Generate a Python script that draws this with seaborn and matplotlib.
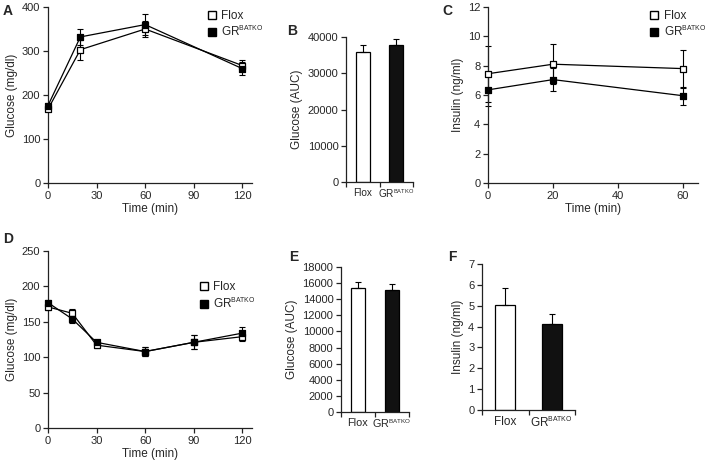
import numpy as np
import pandas as pd
import matplotlib
matplotlib.use("Agg")
import matplotlib.pyplot as plt
import matplotlib._mathtext as mathtext_mod
from matplotlib.lines import Line2D
import seaborn as sns

sns.set_style("ticks")
plt.rcParams['font.family'] = ['Liberation Sans', 'DejaVu Sans']
plt.rcParams['mathtext.fontset'] = 'custom'
plt.rcParams['mathtext.rm'] = 'Liberation Sans'
# smaller superscript, like the "BATKO" in the figure
mathtext_mod.SHRINK_FACTOR = 0.58

# ---- data (mean, SEM) ----
groups = ['Flox', 'GR$^{\\mathrm{BATKO}}$']

# A: GTT glucose
gtt_time = [0, 20, 60, 120]
gtt_flox = [168, 303, 350, 267]
gtt_flox_err = [5, 23, 18, 13]
gtt_ko = [176, 332, 360, 260]
gtt_ko_err = [5, 18, 23, 14]

# B: GTT AUC
gtt_auc = [36000, 37700]
gtt_auc_err = [1900, 1700]

# C: GTT insulin
ins_time = [0, 20, 60]
ins_flox = [7.45, 8.1, 7.8]
ins_flox_err = [1.9, 1.35, 1.3]
ins_ko = [6.35, 7.05, 5.95]
ins_ko_err = [1.1, 0.8, 0.6]

# D: ITT glucose
itt_time = [0, 15, 30, 60, 90, 120]
itt_flox = [171, 162, 117, 108, 121, 129]
itt_flox_err = [4, 6, 4, 7, 10, 6]
itt_ko = [177, 154, 121, 108, 121, 134]
itt_ko_err = [4, 6, 4, 7, 10, 8]

# E: ITT AUC
itt_auc = [15400, 15100]
itt_auc_err = [700, 800]

# F: fasting insulin
fast_ins = [5.02, 4.11]
fast_ins_err = [0.83, 0.48]

W, H = 708, 468
fig = plt.figure(figsize=(W / 100, H / 100), dpi=100)


def add_ax(l, t, r, b):
    return fig.add_axes([l / W, 1 - b / H, (r - l) / W, (b - t) / H])


def style(ax):
    sns.despine(ax=ax)
    for s in ['left', 'bottom']:
        ax.spines[s].set_linewidth(0.9)
        ax.spines[s].set_color('#222222')
    ax.tick_params(axis='both', labelsize=8, length=3.5, width=0.9,
                   direction='out', color='#222222', pad=2)


def time_course(ax, t, flox, flox_err, ko, ko_err, xlim, ylim, yticks, xticks, ylabel):
    df = pd.DataFrame({
        'time': list(t) * 2,
        'value': list(flox) + list(ko),
        'group': ['Flox'] * len(t) + ['KO'] * len(t),
    })
    for vals, errs in [(flox, flox_err), (ko, ko_err)]:
        ax.errorbar(t, vals, yerr=errs, fmt='none', ecolor='black', elinewidth=0.8,
                    capsize=2.5, capthick=0.8, clip_on=False, zorder=2)
    sns.lineplot(data=df, x='time', y='value', hue='group', palette=['black', 'black'],
                 linewidth=0.9, legend=False, ax=ax, zorder=3)
    for vals, face in [(flox, 'white'), (ko, 'black')]:
        sns.scatterplot(x=t, y=vals, marker='s', s=22, color=face, edgecolor='black',
                        linewidth=0.9, ax=ax, zorder=4, clip_on=False, legend=False)
    ax.set_xlim(*xlim)
    ax.set_ylim(*ylim)
    ax.set_xticks(xticks)
    ax.set_yticks(yticks)
    ax.set_xlabel('Time (min)', fontsize=8.5, labelpad=2)
    ax.set_ylabel(ylabel, fontsize=8.5, labelpad=3)
    style(ax)


def add_legend(ax, loc_xy):
    handles = [
        Line2D([], [], linestyle='none', marker='s', markersize=6,
               markerfacecolor='white', markeredgecolor='black', markeredgewidth=1),
        Line2D([], [], linestyle='none', marker='s', markersize=6,
               markerfacecolor='black', markeredgecolor='black'),
    ]
    ax.legend(handles, groups, loc='upper left', bbox_to_anchor=loc_xy, frameon=False,
              fontsize=8.5, handlelength=0.8, handletextpad=0.4, labelspacing=0.3,
              borderaxespad=0, borderpad=0)


def bar_panel(ax, vals, errs, ylim, yticks, ylabel, xfont):
    df = pd.DataFrame({'group': groups, 'value': vals})
    sns.barplot(data=df, x='group', y='value', hue='group', palette=['white', '#111111'],
                edgecolor='black', linewidth=0.9, width=0.42, legend=False, ax=ax)
    ax.errorbar([0, 1], vals, yerr=[np.zeros(2), errs], fmt='none', ecolor='black',
                elinewidth=0.8, capsize=2.5, capthick=0.8)
    ax.set_xlim(-0.5, 1.5)
    ax.set_ylim(*ylim)
    ax.set_yticks(yticks)
    ax.set_xticks([-0.5, 0.5, 1.5], minor=True)
    ax.set_xlabel('')
    ax.set_ylabel(ylabel, fontsize=8.5, labelpad=3)
    style(ax)
    ax.tick_params(axis='x', which='major', length=0, labelsize=xfont, pad=4)
    ax.tick_params(axis='x', which='minor', length=3.5, width=0.9, color='#222222')


# A
axA = add_ax(48, 7, 252, 183)
time_course(axA, gtt_time, gtt_flox, gtt_flox_err, gtt_ko, gtt_ko_err,
            (0, 126), (0, 400), [0, 100, 200, 300, 400], [0, 30, 60, 90, 120],
            'Glucose (mg/dl)')
add_legend(axA, (0.78, 0.985))

# B
axB = add_ax(346, 37, 413, 182)
bar_panel(axB, gtt_auc, gtt_auc_err, (0, 40000), [0, 10000, 20000, 30000, 40000],
          'Glucose (AUC)', 7.2)

# C
axC = add_ax(488, 7, 698, 183)
time_course(axC, ins_time, ins_flox, ins_flox_err, ins_ko, ins_ko_err,
            (0, 64.6), (0, 12), [0, 2, 4, 6, 8, 10, 12], [0, 20, 40, 60],
            'Insulin (ng/ml)')
add_legend(axC, (0.77, 0.985))

# D
axD = add_ax(48, 251, 252, 428)
time_course(axD, itt_time, itt_flox, itt_flox_err, itt_ko, itt_ko_err,
            (0, 126), (0, 250), [0, 50, 100, 150, 200, 250], [0, 30, 60, 90, 120],
            'Glucose (mg/dl)')
add_legend(axD, (0.74, 0.83))

# E
axE = add_ax(341, 267, 409, 412)
bar_panel(axE, itt_auc, itt_auc_err, (0, 18000), list(range(0, 18001, 2000)),
          'Glucose (AUC)', 7.8)

# F
axF = add_ax(482, 264, 575, 410)
bar_panel(axF, fast_ins, fast_ins_err, (0, 7), list(range(0, 8)), 'Insulin (ng/ml)', 8.5)

# panel letters
for lab, x, y in [('A', 3, 11), ('B', 287, 31), ('C', 442, 11),
                  ('D', 3, 239), ('E', 289, 257), ('F', 448, 257)]:
    fig.text(x / W, 1 - y / H, lab, fontsize=10, fontweight='bold', va='center', ha='left')

fig.savefig('out.png', dpi=100)
